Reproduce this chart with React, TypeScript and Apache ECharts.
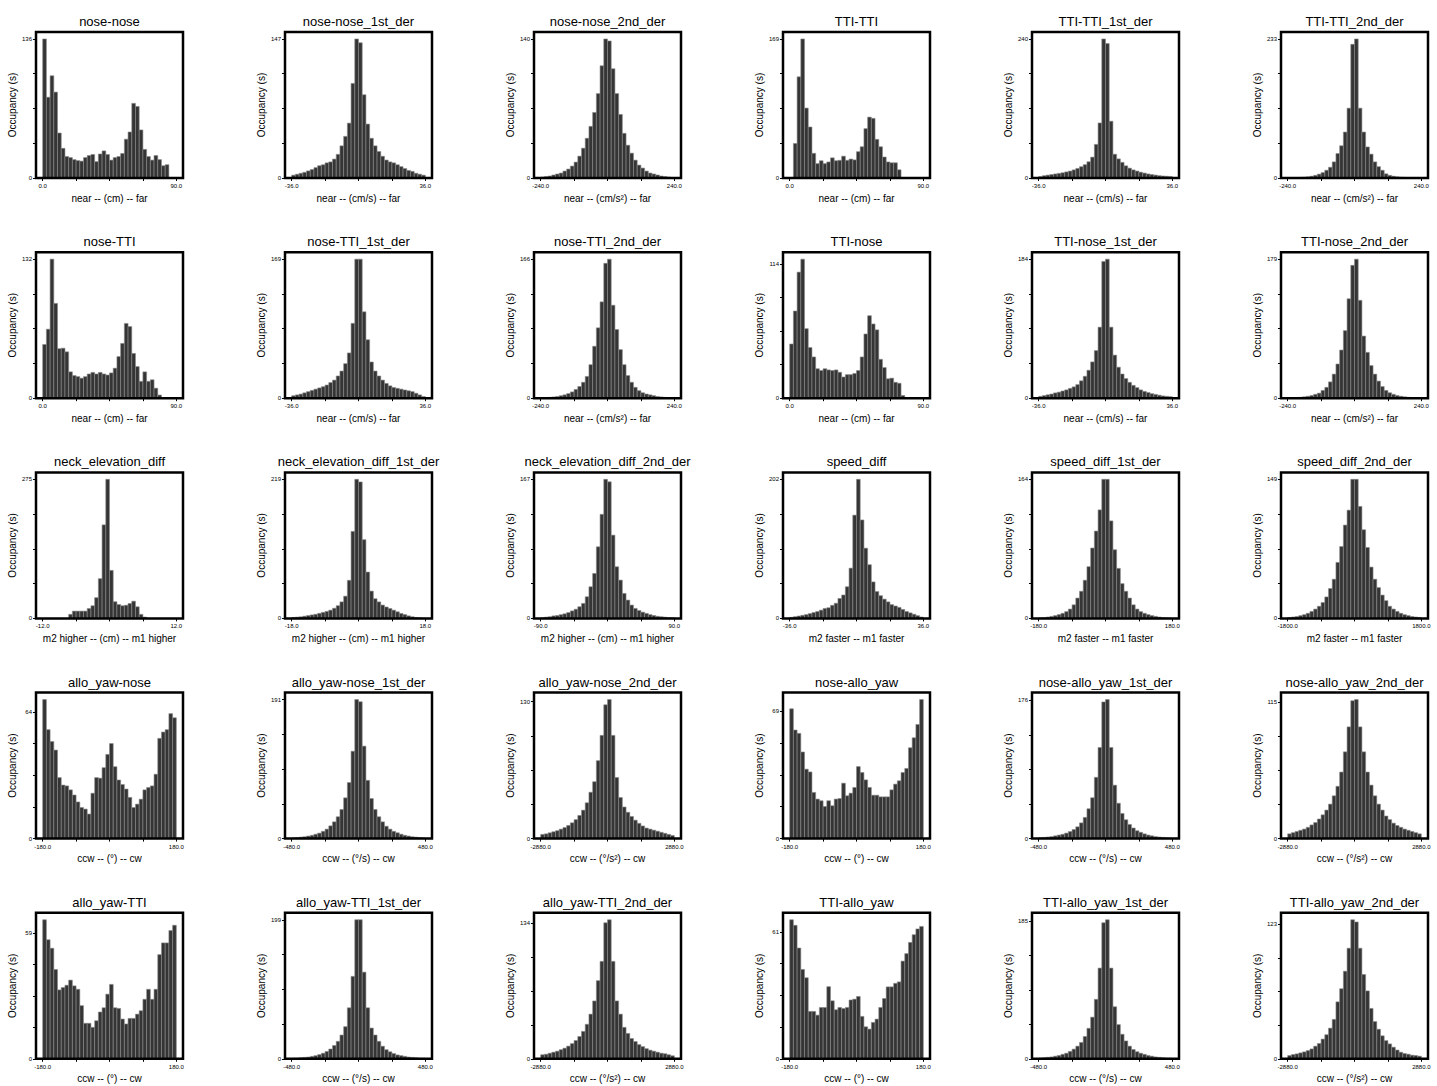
import React, { useEffect, useRef } from "react";
import * as echarts from "echarts";

// ---------- histogram values (occupancy, s), 36 bins each ----------
const noseNose = [136, 79, 100, 84, 44, 29, 21, 20, 18, 17, 16.5, 20, 22, 23, 16, 23.5, 26.5, 23, 17.5, 20, 21, 24, 38, 45, 73, 70, 47, 28, 21, 17.5, 22, 18, 12, 13, 0, 0];
const noseNose1 = [3, 4, 5, 6, 7.5, 9, 11, 13, 14, 16, 17, 20, 25, 34, 44, 58, 100, 147, 143, 88, 57, 42, 34, 28, 23, 19, 17, 16, 14, 12, 10, 8, 7, 5, 4, 3];
const noseNose2 = [1, 1.5, 2, 3, 4, 5, 7, 9, 12, 16, 22, 30, 40, 52, 66, 85, 113, 140, 138, 110, 85, 64, 45, 33, 25, 18, 13, 10, 7, 5, 4, 3, 2, 1.5, 1, 0.5];
const ttiTti = [0, 42, 123, 169, 85, 62, 30, 17.5, 21, 17.5, 19.5, 24.5, 21, 21.5, 26.5, 21.5, 23, 22, 32, 38, 60, 74, 72.5, 47, 38, 25.5, 19.5, 18.5, 18.5, 10, 0, 0, 0, 0, 0, 0];
const ttiTti1 = [2.5, 4, 5, 6, 7, 8, 9, 10.5, 12, 14, 16.5, 19.5, 23, 28, 36, 58, 95, 240, 232, 98, 41, 33, 27, 21, 17, 14, 12, 10, 8.5, 7, 6, 5, 4, 3.5, 3, 2.5];
const ttiTti2 = [0.3, 0.5, 0.7, 1, 1.4, 2, 3, 4.5, 6.5, 9, 13, 18, 27, 41, 54, 77, 117, 224, 233, 117, 77, 52, 40, 27, 19, 13, 7, 4.5, 3, 2, 1.4, 1, 0.7, 0.5, 0.4, 0.3];

const noseTti = [51, 65.5, 132, 90, 47, 47.5, 44, 25, 21.5, 20.5, 19, 20.5, 23, 24.5, 23, 24.5, 23, 22, 24, 28.5, 39.5, 52, 71, 68, 42.5, 30, 16, 25, 16, 17.5, 9.5, 3, 0.5, 0.5, 0.5, 0.5];
const noseTti1 = [3, 4, 5, 6.5, 8, 9.5, 11, 12.5, 14, 16, 19, 22, 27, 33, 42, 55, 91, 169, 169, 105, 71, 44, 33, 27, 22, 18, 15, 13, 12, 11, 10, 9, 8, 6, 4, 2];
const noseTti2 = [0.5, 0.8, 1, 1.5, 2, 3, 4, 5.5, 7.5, 10.5, 14, 19, 26, 40, 62, 84, 115, 161, 166, 111, 82, 58, 40, 27, 19, 13, 9, 6.5, 5, 4, 3, 2, 1.5, 1, 0.7, 0.5];
const ttiNose = [46, 74, 107, 118, 59, 43, 35, 25, 23.5, 25, 24, 23.5, 24, 22, 18, 20, 20, 21, 23.5, 35, 54.5, 70, 63, 58, 33, 26, 16.5, 17, 13.5, 12.7, 2.3, 0.5, 0.5, 0.5, 0.5, 0.5];
const ttiNose1 = [2.5, 3.5, 4.5, 5.5, 7, 8, 9.5, 11, 13, 15, 18, 23, 29, 37, 48, 63, 94, 181, 184, 94, 57, 41, 32, 26, 21, 17, 14, 11, 9, 7.5, 6, 5, 4, 3, 2.5, 2];
const ttiNose2 = [0.3, 0.5, 0.8, 1.2, 1.8, 2.5, 3.5, 5, 6.5, 10, 14, 21, 31, 44, 62, 87, 128, 171, 179, 126, 80, 59, 42, 31, 22, 15, 10, 7, 5, 3.5, 2.5, 1.8, 1.2, 0.8, 0.5, 0.3];

const neckElev = [0, 0, 0, 0, 0, 0, 0, 8, 14.4, 14.4, 14.4, 14.4, 19.6, 25, 41, 78.6, 185, 275, 95, 33, 27.5, 25, 26, 29.5, 34, 23, 8, 2.6, 0, 0, 0, 0, 0, 0, 0, 0];
const neckElev1 = [1.5, 2, 2.5, 3.5, 4.5, 5.5, 6.5, 8, 9.5, 11, 13, 16, 20, 26, 35, 60, 137, 219, 215, 124, 73, 43, 31, 26, 21, 18, 15.6, 13, 10.4, 7.8, 6, 4, 2.6, 1.5, 1, 0.5];
const neckElev2 = [0.8, 1.5, 2, 3, 3.5, 4.5, 5.5, 7, 9, 11, 14, 18, 26, 38, 54, 86, 125, 167, 164, 100, 62, 46, 30, 22, 16, 12, 9.5, 7.5, 6, 4.5, 3.5, 2.5, 2, 1.5, 1, 0.8];
const speedDiff = [1.5, 2.5, 3.5, 4.5, 5.5, 7, 8.5, 10, 12, 14.5, 15.5, 19, 22, 29, 34, 46, 73, 150, 202, 143, 102, 78, 53, 39, 33, 28, 24, 20, 18, 16, 13, 10, 8, 6, 4, 2];
const speedDiff1 = [0.6, 1, 1.6, 2.4, 3.3, 4.5, 6, 8, 11, 16, 24, 32, 45, 61, 83, 103, 128, 164, 164, 115, 81, 59, 41, 32, 24, 16, 11, 8, 6, 4.5, 3.3, 2.4, 1.6, 1, 0.6, 0.4];
const speedDiff2 = [1, 1.5, 2, 3, 4, 5.5, 7.5, 10, 13, 17, 23, 32, 42, 60, 77, 100, 116, 149, 149, 120, 95, 76, 55, 42, 33, 25, 19, 13, 10, 7.5, 5.5, 4, 3, 2, 1.5, 1];

const alloYawNose = [70.2, 55, 49, 44.7, 30.8, 27, 26.6, 24.6, 22, 18.5, 15.7, 14.9, 12.4, 22.9, 30.8, 30.5, 35.8, 42.5, 48, 36.3, 29.6, 27.3, 25, 20.8, 15.7, 17.4, 19.9, 24.6, 25.8, 26.6, 32.5, 50.6, 53.8, 55, 63.1, 61];
const alloYawNose1 = [1, 1.5, 2, 2.5, 3.5, 4.5, 6, 7.5, 10, 13, 17.5, 23, 30, 40, 56, 77, 120, 191, 188, 127, 80, 55, 40, 30, 23, 17, 13, 10, 8, 6, 4.5, 3.5, 2.5, 2, 1.5, 1];
const alloYawNose2 = [4, 4.5, 5.5, 6.5, 7.5, 9, 10.5, 12.5, 15, 18, 22, 27, 34, 44, 54, 74, 98, 127, 132, 98, 58, 39, 30, 25, 21, 17.5, 14.5, 12, 10, 9, 8, 7, 6, 5, 4, 3];
const noseAlloYaw = [70.3, 58.8, 57, 46.9, 37.6, 36.1, 25, 21.4, 20.5, 17.4, 20.5, 17.8, 21.4, 21.7, 30, 23.2, 24.6, 27.7, 39, 35.8, 31.8, 27.7, 23.5, 23.5, 22.6, 22.6, 22.6, 26.4, 29.5, 31.3, 35.8, 38, 49.2, 54.6, 61.8, 75.3];
const noseAlloYaw1 = [1, 1.5, 2, 2.5, 3.5, 4.5, 5.5, 7, 9, 11.5, 15, 20, 27, 38, 52, 78, 116, 174, 177, 116, 68, 45, 32, 24, 18, 13.5, 10, 8, 6, 4.5, 3.5, 2.5, 2, 1.5, 1, 0.8];
const noseAlloYaw2 = [4, 5, 6, 7, 8, 9.5, 11.5, 13.5, 16.5, 20, 24, 29, 36, 44, 56, 73, 94, 116, 117, 94, 73, 56, 45, 36, 29, 24, 19, 16, 13, 11, 9.5, 8, 7, 6, 5, 4];

const alloYawTti = [65.4, 56, 52, 42, 32.4, 33.5, 34.6, 37, 34.3, 32.7, 25, 16.7, 16.7, 14.8, 17.9, 22, 24, 30.4, 35, 24, 23.7, 18.7, 16.4, 19, 19, 21, 22.6, 28, 32.7, 28, 32.7, 49, 54.5, 54.5, 60.3, 62.8];
const alloYawTti1 = [0.8, 1, 1.5, 2, 2.5, 3.5, 4.5, 6, 8, 10.5, 14, 19, 25, 34, 46, 73, 118, 199, 199, 124, 73, 44, 34, 25, 18, 13, 10, 7.5, 5.5, 4.5, 3.5, 2.5, 2, 1.5, 1, 0.8];
const alloYawTti2 = [4, 4.5, 5.5, 6.5, 7.5, 9, 10.5, 12.5, 15, 18, 22, 27, 34, 44, 57, 77, 96, 134, 137, 96, 57, 44, 31, 25, 20, 17, 14, 12, 10, 8.5, 7.5, 6.5, 5.5, 5, 4, 3];
const ttiAlloYaw = [66.9, 64.2, 53.3, 43, 39, 22.8, 22.8, 21, 24.7, 24.7, 34.7, 27.9, 23.6, 24.7, 24.2, 24.7, 28.3, 28.7, 30, 20.4, 15.4, 14.3, 17.5, 19.1, 24.7, 29, 34.6, 34.6, 36.3, 37, 47, 50.6, 56, 59.7, 62.5, 63.7];
const ttiAlloYaw1 = [1, 1.5, 2, 2.5, 3.5, 4.5, 6, 7.5, 10, 13, 17, 22, 30, 41, 56, 80, 122, 183, 187, 122, 70, 46, 33, 24, 17, 12.5, 9.5, 7.5, 6, 4.5, 3.5, 2.5, 2, 1.5, 1, 0.8];
const ttiAlloYaw2 = [3, 3.9, 4.5, 5.4, 6.3, 7.5, 9, 11.5, 14, 18, 22, 28, 36, 52, 64, 80, 101, 127, 125, 101, 77, 62, 46, 34, 27, 21, 16.6, 13.6, 10.6, 8, 6, 4.8, 4.2, 3.3, 3, 2.4];

// ---------- titles, top y-tick labels, x ranges, x-axis names ----------
const titles = [
  "nose-nose", "nose-nose_1st_der", "nose-nose_2nd_der", "TTI-TTI", "TTI-TTI_1st_der", "TTI-TTI_2nd_der",
  "nose-TTI", "nose-TTI_1st_der", "nose-TTI_2nd_der", "TTI-nose", "TTI-nose_1st_der", "TTI-nose_2nd_der",
  "neck_elevation_diff", "neck_elevation_diff_1st_der", "neck_elevation_diff_2nd_der", "speed_diff", "speed_diff_1st_der", "speed_diff_2nd_der",
  "allo_yaw-nose", "allo_yaw-nose_1st_der", "allo_yaw-nose_2nd_der", "nose-allo_yaw", "nose-allo_yaw_1st_der", "nose-allo_yaw_2nd_der",
  "allo_yaw-TTI", "allo_yaw-TTI_1st_der", "allo_yaw-TTI_2nd_der", "TTI-allo_yaw", "TTI-allo_yaw_1st_der", "TTI-allo_yaw_2nd_der",
];
const seriesValues = [
  noseNose, noseNose1, noseNose2, ttiTti, ttiTti1, ttiTti2,
  noseTti, noseTti1, noseTti2, ttiNose, ttiNose1, ttiNose2,
  neckElev, neckElev1, neckElev2, speedDiff, speedDiff1, speedDiff2,
  alloYawNose, alloYawNose1, alloYawNose2, noseAlloYaw, noseAlloYaw1, noseAlloYaw2,
  alloYawTti, alloYawTti1, alloYawTti2, ttiAlloYaw, ttiAlloYaw1, ttiAlloYaw2,
];
const topTickLabels = [
  136, 147, 140, 169, 240, 233,
  132, 169, 166, 114, 184, 179,
  275, 219, 167, 202, 164, 149,
  64, 191, 130, 69, 176, 115,
  59, 199, 134, 61, 185, 123,
];
const distRanges = [[0, 90], [-36, 36], [-240, 240]];
const neckRanges = [[-12, 12], [-18, 18], [-90, 90]];
const speedRanges = [[-36, 36], [-180, 180], [-1800, 1800]];
const yawRanges = [[-180, 180], [-480, 480], [-2880, 2880]];
const distNames = ["near -- (cm) -- far", "near -- (cm/s) -- far", "near -- (cm/s²) -- far"];
const neckNames = ["m2 higher -- (cm) -- m1 higher", "m2 higher -- (cm) -- m1 higher", "m2 higher -- (cm) -- m1 higher"];
const speedNames = ["m2 faster -- m1 faster", "m2 faster -- m1 faster", "m2 faster -- m1 faster"];
const yawNames = ["ccw -- (°) -- cw", "ccw -- (°/s) -- cw", "ccw -- (°/s²) -- cw"];
const yName = "Occupancy (s)";

// ---------- layout ----------
const FONT = "'Liberation Sans', Arial, Helvetica, sans-serif";
const LEFT0 = 36;
const DX = 249;
const TOP0 = 32;
const DY = 220.2;
const GW = 147;
const GH = 146;

function rowSpec(i: number) {
  const r = Math.floor(i / 6);
  const c = i % 6;
  const k = c % 3;
  if (r <= 1) return { range: distRanges[k], name: distNames[k] };
  if (r === 2) return c < 3 ? { range: neckRanges[k], name: neckNames[k] } : { range: speedRanges[k], name: speedNames[k] };
  return { range: yawRanges[k], name: yawNames[k] };
}

function buildOption() {
  const grid: any[] = [];
  const title: any[] = [];
  const xAxis: any[] = [];
  const yAxis: any[] = [];
  const series: any[] = [];

  seriesValues.forEach((vals, i) => {
    const r = Math.floor(i / 6);
    const c = i % 6;
    const left = LEFT0 + c * DX;
    const top = TOP0 + r * DY;
    const spec = rowSpec(i);
    const [x0, x1] = spec.range;
    const span = x1 - x0;
    const w = span / vals.length;
    const L = topTickLabels[i];
    const vmax = Math.max(...vals);

    grid.push({
      left, top, width: GW, height: GH, show: true, z: 10,
      borderColor: "#000", borderWidth: 2.5, backgroundColor: "transparent",
    });
    title.push({
      text: titles[i], left: left + GW / 2, top: top - 17, textAlign: "center", padding: 0,
      textStyle: { fontSize: 13, fontWeight: "normal", color: "#000", fontFamily: FONT },
    });
    xAxis.push({
      gridIndex: i, type: "value", position: "bottom",
      min: x0 - 0.05 * span, max: x1 + 0.05 * span,
      axisLine: { show: false, onZero: false },
      splitLine: { show: false },
      axisTick: {
        show: true, inside: false, length: 3, lineStyle: { color: "#000", width: 1 },
        customValues: [x0, x0 + span / 4, x0 + span / 2, x0 + (3 * span) / 4, x1],
      },
      axisLabel: {
        customValues: [x0, x1], formatter: (v: number) => v.toFixed(1),
        fontSize: 6, margin: 5, color: "#000", fontFamily: FONT,
      },
      name: spec.name, nameLocation: "middle", nameGap: 15,
      nameTextStyle: { fontSize: 10, color: "#000", fontFamily: FONT },
    });
    yAxis.push({
      gridIndex: i, type: "value", position: "left", min: 0, max: vmax * 1.05,
      axisLine: { show: false, onZero: false },
      splitLine: { show: false },
      axisTick: {
        show: true, inside: false, length: 3, lineStyle: { color: "#000", width: 1 },
        customValues: [0, L / 4, L / 2, (3 * L) / 4, L],
      },
      axisLabel: {
        customValues: [0, L], formatter: (v: number) => String(Math.round(v)),
        fontSize: 6, margin: 4, color: "#000", fontFamily: FONT,
      },
      name: yName, nameLocation: "middle", nameGap: 19, nameRotate: 90,
      nameTextStyle: { fontSize: 10, color: "#000", fontFamily: FONT },
    });
    series.push({
      type: "custom", xAxisIndex: i, yAxisIndex: i,
      encode: { x: [0, 1], y: 2 },
      data: vals.map((v, k) => [x0 + k * w, x0 + (k + 1) * w, v]),
      renderItem: (params: any, api: any) => {
        const v = api.value(2);
        if (!v) return null;
        const a = api.coord([api.value(0), v]);
        const b = api.coord([api.value(1), 0]);
        return {
          type: "rect",
          shape: { x: a[0], y: a[1], width: b[0] - a[0], height: b[1] - a[1] },
          style: { fill: "#353535", stroke: "#8a8a8a", lineWidth: 0.6 },
        };
      },
    });
  });

  return { animation: false, backgroundColor: "#fff", title, grid, xAxis, yAxis, series };
}

export default function App() {
  const ref = useRef<HTMLDivElement>(null);
  useEffect(() => {
    document.body.style.margin = "0";
    const chart = echarts.init(ref.current!, null, { renderer: "svg" });
    chart.setOption(buildOption() as any);
    return () => chart.dispose();
  }, []);
  return <div ref={ref} style={{ width: 1437, height: 1086 }} />;
}
